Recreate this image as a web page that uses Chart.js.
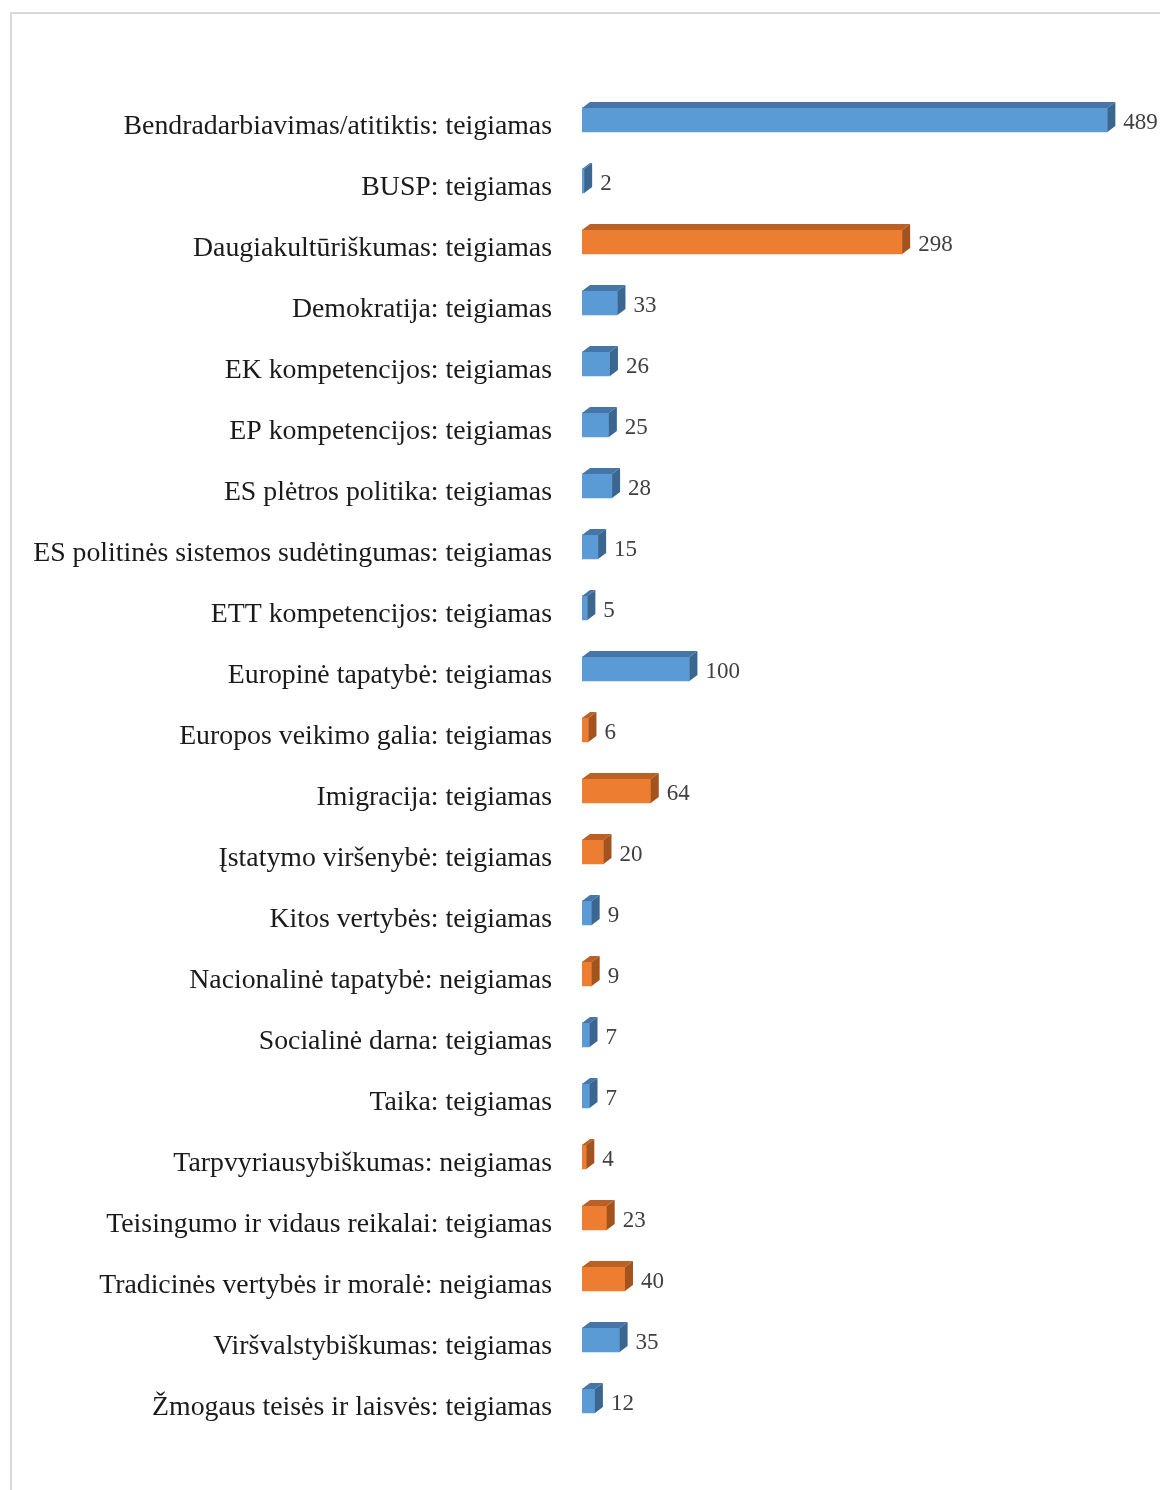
<!DOCTYPE html>
<html>
<head>
<meta charset="utf-8">
<script src="https://cdn.jsdelivr.net/npm/chart.js@4/dist/chart.umd.min.js"></script>
<style>
  html, body { margin: 0; padding: 0; background: #fff; }
  #wrap { position: relative; width: 1160px; height: 1490px; overflow: hidden; }
  #frame {
    position: absolute; left: 10px; top: 12px; width: 1200px; height: 1600px;
    border-top: 2px solid #d9d9d9; border-left: 2px solid #d9d9d9;
  }
  #plot { position: absolute; left: 0; top: 0; }
</style>
</head>
<body>
<div id="wrap">
  <div id="frame"></div>
  <canvas id="plot" width="1160" height="1490"></canvas>
</div>
<script>
// Kategorijos, reikšmės ir grupė (mėlyna / oranžinė) kiekvienai juostai
const kategorijos = [
  'Bendradarbiavimas/atitiktis: teigiamas',
  'BUSP: teigiamas',
  'Daugiakultūriškumas: teigiamas',
  'Demokratija: teigiamas',
  'EK kompetencijos: teigiamas',
  'EP kompetencijos: teigiamas',
  'ES plėtros politika: teigiamas',
  'ES politinės sistemos sudėtingumas: teigiamas',
  'ETT kompetencijos: teigiamas',
  'Europinė tapatybė: teigiamas',
  'Europos veikimo galia: teigiamas',
  'Imigracija: teigiamas',
  'Įstatymo viršenybė: teigiamas',
  'Kitos vertybės: teigiamas',
  'Nacionalinė tapatybė: neigiamas',
  'Socialinė darna: teigiamas',
  'Taika: teigiamas',
  'Tarpvyriausybiškumas: neigiamas',
  'Teisingumo ir vidaus reikalai: teigiamas',
  'Tradicinės vertybės ir moralė: neigiamas',
  'Viršvalstybiškumas: teigiamas',
  'Žmogaus teisės ir laisvės: teigiamas'
];
const reiksmes = [489, 2, 298, 33, 26, 25, 28, 15, 5, 100, 6, 64, 20, 9, 9, 7, 7, 4, 23, 40, 35, 12];
const grupes = ['m', 'm', 'o', 'm', 'm', 'm', 'm', 'm', 'm', 'm', 'o', 'o', 'o', 'm', 'o', 'm', 'm', 'o', 'o', 'o', 'm', 'm'];

const spalvos = {
  m: { priekis: '#5B9BD5', virsus: '#4676A8', sonas: '#3B6690' },
  o: { priekis: '#ED7D31', virsus: '#BC6125', sonas: '#A3531E' }
};

const GYLIS_X = 8;
const GYLIS_Y = 6;

// viršutinė ir šoninė juostos plokštumos bei reikšmių užrašai
const trimate = {
  id: 'trimate',
  afterDatasetsDraw(chart) {
    const ctx = chart.ctx;
    const meta = chart.getDatasetMeta(0);
    meta.data.forEach((bar, i) => {
      const p = bar.getProps(['x', 'y', 'base', 'height'], true);
      const c = spalvos[grupes[i]];
      const top = p.y - p.height / 2;
      const bot = p.y + p.height / 2;
      ctx.save();
      ctx.fillStyle = c.virsus;
      ctx.beginPath();
      ctx.moveTo(p.base, top);
      ctx.lineTo(p.base + GYLIS_X, top - GYLIS_Y);
      ctx.lineTo(p.x + GYLIS_X, top - GYLIS_Y);
      ctx.lineTo(p.x, top);
      ctx.closePath();
      ctx.fill();
      ctx.fillStyle = c.sonas;
      ctx.beginPath();
      ctx.moveTo(p.x, top);
      ctx.lineTo(p.x + GYLIS_X, top - GYLIS_Y);
      ctx.lineTo(p.x + GYLIS_X, bot - GYLIS_Y);
      ctx.lineTo(p.x, bot);
      ctx.closePath();
      ctx.fill();
      ctx.fillStyle = '#404040';
      ctx.font = '23px "Liberation Serif", "Times New Roman", serif';
      ctx.textAlign = 'left';
      ctx.textBaseline = 'middle';
      ctx.fillText(String(reiksmes[i]), p.x + GYLIS_X + 8, p.y + 3);
      ctx.restore();
    });
  }
};

new Chart(document.getElementById('plot'), {
  type: 'bar',
  data: {
    labels: kategorijos,
    datasets: [{
      data: reiksmes,
      backgroundColor: grupes.map(g => spalvos[g].priekis),
      borderWidth: 0,
      barThickness: 24
    }]
  },
  options: {
    indexAxis: 'y',
    responsive: false,
    animation: false,
    devicePixelRatio: 1,
    layout: { padding: { top: 89.5, bottom: 58.5, left: 0, right: 0 } },
    plugins: { legend: { display: false }, tooltip: { enabled: false } },
    scales: {
      x: { display: false, min: 0, max: 538 },
      y: {
        grid: { display: false },
        border: { display: false },
        afterFit(scale) { scale.width = 582; },
        ticks: {
          padding: 22,
          labelOffset: 6.5,
          color: '#1a1a1a',
          font: { family: '"Liberation Serif", "Times New Roman", serif', size: 27.8 }
        }
      }
    }
  },
  plugins: [trimate]
});
</script>
</body>
</html>
